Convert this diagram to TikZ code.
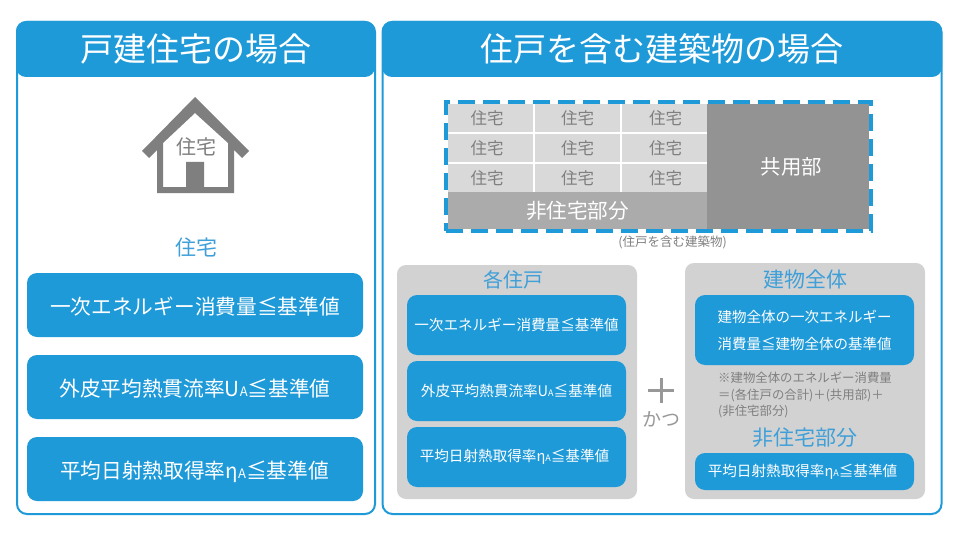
\documentclass[tikz,border=0pt]{standalone}
\usepackage{fontspec}
\setmainfont{Noto Sans CJK JP}
\definecolor{headblue}{HTML}{1E9AD9}
\definecolor{titleblue}{HTML}{3F9FD8}
\definecolor{cellgray}{HTML}{D9D9D9}
\definecolor{wingray}{HTML}{ABABAB}
\definecolor{commongray}{HTML}{939393}
\definecolor{listgray}{HTML}{D2D2D2}
\definecolor{textgray}{HTML}{7F7F7F}
\newcommand{\fs}[1]{\fontsize{#1}{#1}\selectfont}
\newcommand{\subA}[1]{{\fontsize{#1}{#1}\selectfont A}}

\begin{document}
\begin{tikzpicture}[x=1pt,y=-1pt,node distance=87pt]
  \tikzstyle{panel}=[rectangle,rounded corners=10pt,draw=headblue,line width=2pt,fill=white,inner sep=0pt]
  \tikzstyle{header}=[rectangle,rounded corners=10pt,fill=headblue,text=white,inner sep=0pt,minimum height=56pt,text height=28pt,text depth=3pt,font=\fs{33}]
  \tikzstyle{bigrule}=[rectangle,rounded corners=10pt,fill=headblue,text=white,inner sep=0pt,minimum width=336pt,minimum height=64pt,text height=20pt,text depth=2pt,font=\fs{20.7}]
  \tikzstyle{smallrule}=[rectangle,rounded corners=10pt,fill=headblue,text=white,inner sep=0pt,minimum width=219pt,minimum height=60pt,font=\fs{14.6}]
  \tikzstyle{listbox}=[rectangle,rounded corners=9pt,fill=listgray,inner sep=0pt,minimum width=240pt]
  \tikzstyle{unit}=[rectangle,fill=cellgray,text=textgray,inner sep=0pt,minimum width=85pt,minimum height=27.5pt,font=\fs{16.5}]
  \tikzstyle{title}=[text=titleblue,inner sep=0pt,font=\fs{21}]
  \useasboundingbox (0,0) rectangle (960,540);

  % left panel
  \node[panel, minimum width=358pt, minimum height=492pt] (leftpanel) at (196,268) {};
  \node[header, minimum width=359pt] (lefthead) at (195.5,49) {戸建住宅の場合};

  % house
  \fill[textgray,even odd rule] (195,97) -- (249,151) -- (242,158) -- (234,150) -- (234,193) -- (157,193)
    -- (157,150) -- (149,158) -- (142,151) -- cycle
    (195,113) -- (163,143) -- (163,187) -- (186,187) -- (186,162) -- (204,162) -- (204,187) -- (228,187) -- (228,143) -- cycle;
  \node[text=textgray, font=\fs{20}, inner sep=0pt] (houselabel) at (196,147) {住宅};
  \node[title] (housetitle) at (196,247) {住宅};

  \node[bigrule] (l1) at (195,305) {一次エネルギー消費量≦基準値};
  \node[bigrule, below of=l1, node distance=82pt] (l2) {外皮平均熱貫流率U\subA{13}≦基準値};
  \node[bigrule, below of=l2, node distance=82pt] (l3) {平均日射熱取得率η\subA{13}≦基準値\hspace*{1pt}};

  % right panel
  \node[panel, minimum width=559pt, minimum height=492pt] (rightpanel) at (662,268) {};
  \node[header, minimum width=560pt] (righthead) at (662,49) {住戸を含む建築物の場合};

  % building
  \node[unit] (u11) at (490.5,118) {住宅\hspace*{7pt}};
  \node[unit, right of=u11] (u12) {住宅};
  \node[unit, right of=u12] (u13) {\hspace*{2pt}住宅};
  \node[unit, below of=u11, node distance=30pt] (u21) {住宅\hspace*{7pt}};
  \node[unit, right of=u21] (u22) {住宅};
  \node[unit, right of=u22] (u23) {\hspace*{2pt}住宅};
  \node[unit, below of=u21, node distance=30pt] (u31) {住宅\hspace*{7pt}};
  \node[unit, right of=u31] (u32) {住宅};
  \node[unit, right of=u32] (u33) {\hspace*{2pt}住宅};
  \node[rectangle, fill=wingray, text=white, inner sep=0pt, minimum width=259pt, minimum height=37pt, font=\fs{20.6}] (nonres) at (577.5,210.5) {非住宅部分};
  \node[rectangle, fill=commongray, text=white, inner sep=0pt, minimum width=162pt, minimum height=125pt, font=\fs{20.4}] (common) at (788,166.5) {\hspace*{7pt}共用部};
  \node[rectangle, draw=headblue, line width=4pt, dash pattern=on 17pt off 8pt, inner sep=0pt, minimum width=425pt, minimum height=129pt] (building) at (658.5,166.5) {};
  \node[text=textgray, inner sep=0pt, font=\fs{12.5}] (buildcap) at (672.5,242) {(住戸を含む建築物)};

  % each dwelling
  \node[listbox, minimum height=234pt] (eachbox) at (517,382) {};
  \node[title, font=\fs{20}] (eachtitle) at (513,280) {各住戸};
  \node[smallrule] (e1) at (516.5,325) {一次エネルギー消費量≦基準値};
  \node[smallrule, below of=e1, node distance=66pt] (e2) {外皮平均熱貫流率U\subA{9}≦基準値};
  \node[smallrule, below of=e2, node distance=66pt] (e3) {平均日射熱取得率η\subA{9}≦基準値\hspace*{4pt}};

  % plus
  \fill[textgray!80] (648,389) rectangle (674,392);
  \fill[textgray!80] (659.5,378) rectangle (662.5,403);
  \node[text=textgray!80, inner sep=0pt, font=\fs{19}] (katsu) at (661,419.5) {かつ};

  % whole building
  \node[listbox, minimum height=236pt] (wholebox) at (805,381) {};
  \node[title] (wholetitle) at (805,280) {建物全体};
  \node[smallrule, minimum height=70pt, align=left, font=\fontsize{14.5}{27}\selectfont] (w1) at (804.5,330) {建物全体の一次エネルギー\\消費量≦建物全体の基準値};
  \node[text=textgray, inner sep=0pt, align=left, font=\fontsize{12.4}{16.5}\selectfont] (wnote) at (805,395) {※建物全体のエネルギー消費量\\＝(各住戸の合計)＋(共用部)＋\\(非住宅部分)};
  \node[title] (nonrestitle) at (805,438) {非住宅部分};
  \node[smallrule, minimum height=37pt] (w2) at (804.5,471.5) {平均日射熱取得率η\subA{9}≦基準値\hspace*{4pt}};

\end{tikzpicture}
\end{document}
